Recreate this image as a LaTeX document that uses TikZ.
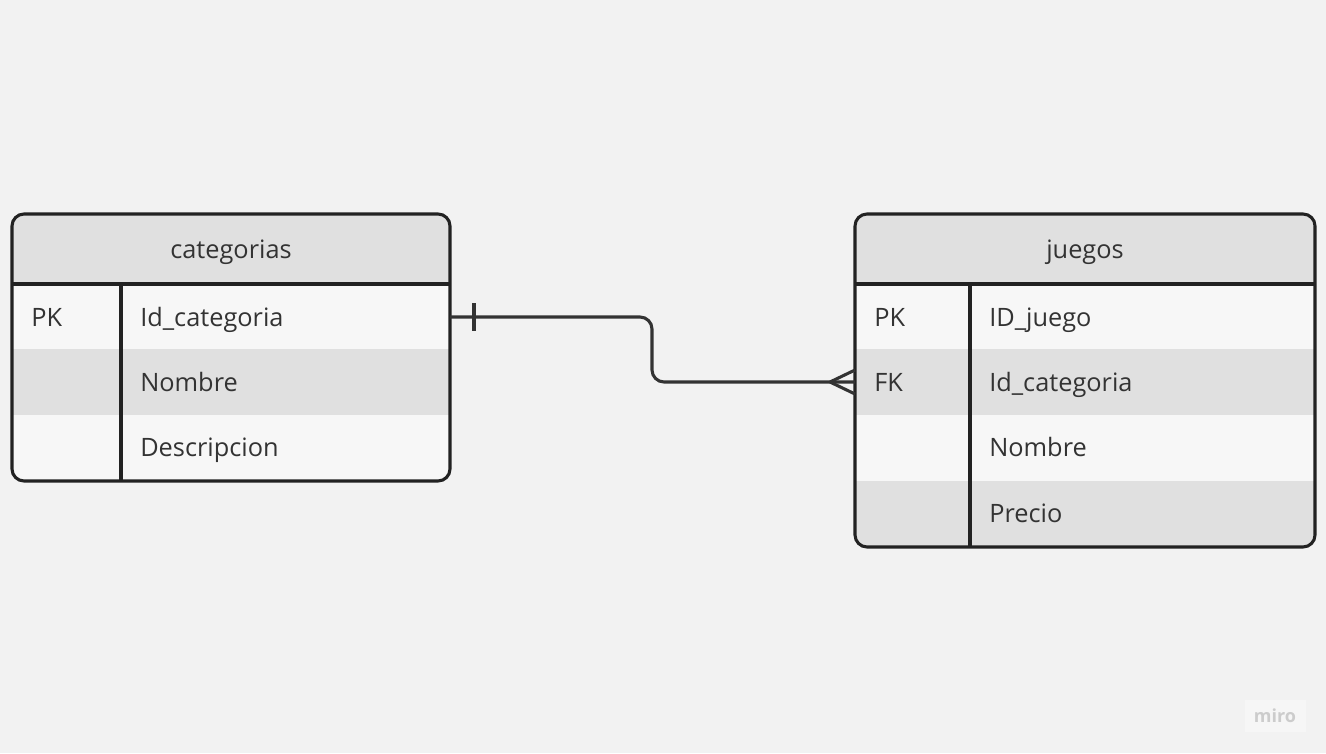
\documentclass[tikz,border=0pt]{standalone}
\usepackage{fontspec}
\setmainfont{Open Sans}
\usepackage{tikz}
\usepackage{xcolor}
\definecolor{pagebg}{HTML}{F2F2F2}
\definecolor{rowlight}{HTML}{F7F7F7}
\definecolor{rowdark}{HTML}{E0E0E0}
\definecolor{frameline}{HTML}{222222}
\definecolor{linkline}{HTML}{333333}
\definecolor{textgray}{HTML}{333333}

\begin{document}
\begin{tikzpicture}[x=0.75pt,y=0.75pt,yscale=-1,xscale=1,
  tablefont/.style={font=\fontsize{19}{23}\selectfont, text=textgray, inner sep=0pt},
  cellname/.style={tablefont, anchor=base west},
  headname/.style={tablefont, anchor=base},
  tableframe/.style={draw=frameline, line width=2.3pt, rounded corners=9pt},
  innerline/.style={draw=frameline, line width=2.3pt},
  relline/.style={draw=linkline, line width=2.3pt}]
%set diagram to the full page
\useasboundingbox [fill=pagebg] (0,0) rectangle (1326,753);

%Shape: Table categorias [fills]
\begin{scope}
\clip [rounded corners=9pt] (12,214) rectangle (450,481);
\fill [rowdark] (12,214) rectangle (450,284);
\fill [rowlight] (12,284) rectangle (450,349);
\fill [rowdark] (12,349) rectangle (450,415);
\fill [rowlight] (12,415) rectangle (450,481);
\end{scope}
%Shape: Table categorias [lines]
\draw [innerline] (12,284) -- (450,284) ;
\draw [innerline] (121,284) -- (121,481) ;
\draw [tableframe] (12,214) rectangle (450,481) ;
%Text: categorias
\node [headname] (catHead) at (231,258) {categorias};
\node [cellname] (catPK) at (31,326) {PK};
\node [cellname] (catId) at (140,326) {Id\_categoria};
\node [cellname] (catNombre) at (140,391) {Nombre};
\node [cellname] (catDesc) at (140,456) {Descripcion};

%Shape: Table juegos [fills]
\begin{scope}
\clip [rounded corners=9pt] (855,214) rectangle (1315,547);
\fill [rowdark] (855,214) rectangle (1315,284);
\fill [rowlight] (855,284) rectangle (1315,349);
\fill [rowdark] (855,349) rectangle (1315,415);
\fill [rowlight] (855,415) rectangle (1315,481);
\fill [rowdark] (855,481) rectangle (1315,547);
\end{scope}
%Shape: Table juegos [lines]
\draw [innerline] (855,284) -- (1315,284) ;
\draw [innerline] (970,284) -- (970,547) ;
\draw [tableframe] (855,214) rectangle (1315,547) ;
%Text: juegos
\node [headname] (jueHead) at (1085,258) {juegos};
\node [cellname] (juePK) at (874,326) {PK};
\node [cellname] (jueId) at (989,326) {ID\_juego};
\node [cellname] (jueFK) at (874,391) {FK};
\node [cellname] (jueCat) at (989,391) {Id\_categoria};
\node [cellname] (jueNombre) at (989,456) {Nombre};
\node [cellname] (juePrecio) at (989,522) {Precio};

%Connector ends
\coordinate (catOut) at (450,317);
\coordinate (jueIn) at (855,382);
\coordinate (crowTip) at (830,382);

%Straight Lines: one to many
\draw [relline, rounded corners=9pt] (catOut) -- (652,317) -- (652,382) -- (jueIn) ;
%one mark
\draw [relline] ([xshift=18pt]catOut) ++(0,-14) -- ++(0,28) ;
%many mark
\draw [relline] (crowTip) -- ([yshift=-9pt]jueIn) ;
\draw [relline] (crowTip) -- ([yshift=9pt]jueIn) ;

%Text: watermark
\fill [white, opacity=0.35] (1245,700) rectangle (1306,732) ;
\node [font=\fontsize{13.5}{15}\selectfont\bfseries, text=black!20] (mark) at (1275,716) {miro};

\end{tikzpicture}
\end{document}
